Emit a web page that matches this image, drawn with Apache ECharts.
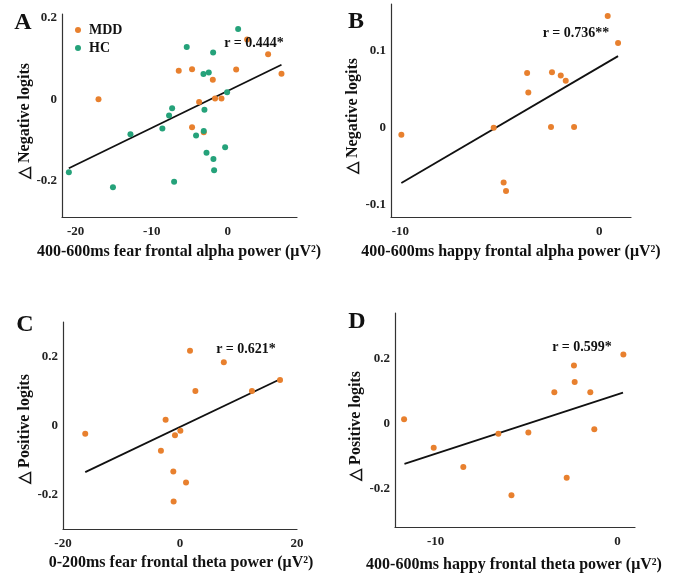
<!DOCTYPE html>
<html>
<head>
<meta charset="utf-8">
<script src="https://cdn.jsdelivr.net/npm/echarts@6/dist/echarts.min.js"></script>
<style>
  html, body { margin: 0; padding: 0; background: #fff; }
  #main { width: 692px; height: 578px; }
</style>
</head>
<body>
<div id="main"></div>
<script>
// values

// A: fear frontal alpha vs negative logits
let aMddX = [-17.0, -6.45, -4.7, -3.77, -4.7, -3.16, -1.97, -1.67, -0.83, 1.1, 2.54, 5.3, 7.06]
let aMddY = [0.0, 0.07, 0.074, -0.007, -0.069, -0.081, 0.048, 0.002, 0.002, 0.073, 0.147, 0.111, 0.063]
let aHcX = [1.36, -5.4, -1.93, -3.2, -2.5, -0.09, -7.32, -7.72, -3.07, -8.6, -3.16, -12.8, -4.17, -0.35, -2.8, -1.89, -1.8, -7.06, -20.9, -15.1]
let aHcY = [0.173, 0.129, 0.115, 0.0625, 0.066, 0.017, -0.022, -0.04, -0.026, -0.072, -0.078, -0.086, -0.089, -0.118, -0.132, -0.147, -0.175, -0.203, -0.18, -0.217]
let aFitX = [-20.9, 7.06]
let aFitY = [-0.170, 0.085]

// B: happy frontal alpha vs negative logits
let bX = [-9.95, -5.31, -4.81, -4.69, -3.63, -3.57, -2.43, -2.38, -1.94, -1.69, -1.27, 0.42, 0.94]
let bY = [-0.009, 0, -0.071, -0.082, 0.071, 0.046, 0.001, 0.072, 0.068, 0.061, 0.001, 0.145, 0.110]
let bFitX = [-9.95, 0.94]
let bFitY = [-0.0714, 0.093]

// C: fear frontal theta vs positive logits
let cX = [-16.2, -2.46, -3.26, -0.86, 0.06, -1.14, -1.09, 1.03, 1.71, 2.63, 7.49, 12.3, 17.1]
let cY = [-0.024, 0.017, -0.073, -0.028, -0.015, -0.133, -0.220, -0.165, 0.217, 0.100, 0.183, 0.100, 0.132]
let cFitX = [-16.2, 17.1]
let cFitY = [-0.135, 0.134]

// D: happy frontal theta vs positive logits
let dX = [-11.74, -10.11, -8.48, -6.55, -5.83, -4.9, -3.47, -2.79, -2.39, -2.35, -1.49, -1.27, 0.33]
let dY = [0.013, -0.075, -0.135, -0.032, -0.222, -0.028, 0.096, -0.168, 0.179, 0.128, 0.096, -0.018, 0.213]
let dFitX = [-11.72, 0.31]
let dFitY = [-0.125, 0.095]

let aXTicks = [-20, -10, 0], aYTicks = [-0.2, 0, 0.2]
let bXTicks = [-10, 0], bYTicks = [-0.1, 0, 0.1]
let cXTicks = [-20, 0, 20], cYTicks = [-0.2, 0, 0.2]
let dXTicks = [-10, 0], dYTicks = [-0.2, 0, 0.2]

const orange = '#E8802E'
const green = '#25A27A'
const serif = '"Liberation Serif", "Times New Roman", serif'

function zip(xs, ys) {
    return xs.map((x, i) => [x, ys[i]])
}

function xAxis(idx, min, max, ticks) {
    return {
        type: 'value', gridIndex: idx, min: min, max: max,
        axisLine: { show: true, onZero: false, lineStyle: { color: '#333', width: 1.2 } },
        axisTick: { show: false },
        splitLine: { show: false },
        axisLabel: { customValues: ticks, margin: 8, color: '#222', fontSize: 13, fontWeight: 'bold', fontFamily: serif }
    }
}

function yAxis(idx, min, max, ticks) {
    return {
        type: 'value', gridIndex: idx, min: min, max: max,
        axisLine: { show: true, onZero: false, lineStyle: { color: '#333', width: 1.2 } },
        axisTick: { show: false },
        splitLine: { show: false },
        axisLabel: { customValues: ticks, margin: 5, color: '#222', fontSize: 13, fontWeight: 'bold', fontFamily: serif }
    }
}

function dots(name, idx, data, color) {
    return {
        name: name, type: 'scatter', xAxisIndex: idx, yAxisIndex: idx,
        data: data, symbolSize: 6, itemStyle: { color: color, opacity: 1 }, z: 3
    }
}

function fit(idx, data) {
    return {
        type: 'line', xAxisIndex: idx, yAxisIndex: idx, data: data,
        showSymbol: false, lineStyle: { color: '#111', width: 1.8 }, z: 2, silent: true
    }
}

function txt(x, y, s, size, rot) {
    return {
        type: 'text', x: x, y: y, rotation: rot || 0, z: 10,
        style: { text: s, fill: '#111', fontSize: size, fontWeight: 'bold', fontFamily: serif, align: 'center', verticalAlign: 'middle' }
    }
}

var myChart = echarts.init(document.getElementById('main'))

var option = {
    animation: false,
    backgroundColor: '#fff',
    grid: [
        { left: 62, top: 14, width: 235, height: 203 },
        { left: 391, top: 4, width: 240, height: 213 },
        { left: 63, top: 322, width: 234, height: 207 },
        { left: 395, top: 313, width: 240, height: 214 }
    ],
    xAxis: [
        xAxis(0, -21.8, 9.1, aXTicks),
        xAxis(1, -10.47, 1.59, bXTicks),
        xAxis(2, -20, 20, cXTicks),
        xAxis(3, -12.24, 0.97, dXTicks)
    ],
    yAxis: [
        yAxis(0, -0.29, 0.21, aYTicks),
        yAxis(1, -0.1156, 0.1606, bYTicks),
        yAxis(2, -0.3, 0.3, cYTicks),
        yAxis(3, -0.32, 0.341, dYTicks)
    ],
    legend: {
        data: ['MDD', 'HC'], orient: 'vertical', left: 75, top: 23, padding: 0,
        icon: 'circle', itemWidth: 6, itemHeight: 6, itemGap: 4,
        textStyle: { fontSize: 14, fontWeight: 'bold', fontFamily: serif, color: '#111', lineHeight: 14, padding: [0, 0, 0, 3] }
    },
    series: [
        fit(0, zip(aFitX, aFitY)),
        dots('MDD', 0, zip(aMddX, aMddY), orange),
        dots('HC', 0, zip(aHcX, aHcY), green),
        fit(1, zip(bFitX, bFitY)),
        dots('B', 1, zip(bX, bY), orange),
        fit(2, zip(cFitX, cFitY)),
        dots('C', 2, zip(cX, cY), orange),
        fit(3, zip(dFitX, dFitY)),
        dots('D', 3, zip(dX, dY), orange)
    ],
    graphic: [
        txt(23, 23, 'A', 24), txt(356, 22, 'B', 24), txt(25, 325, 'C', 24), txt(357, 322, 'D', 24),
        txt(254, 43, 'r = 0.444*', 14), txt(576, 33, 'r = 0.736**', 14),
        txt(246, 349, 'r = 0.621*', 14), txt(582, 347, 'r = 0.599*', 14),
        txt(25, 121, '△ Negative logits', 16, Math.PI / 2),
        txt(353, 116, '△ Negative logits', 16, Math.PI / 2),
        txt(25, 429, '△ Positive logits', 16, Math.PI / 2),
        txt(356, 426, '△ Positive logits', 16, Math.PI / 2),
        txt(179, 252, '400-600ms fear frontal alpha power (μV²)', 16),
        txt(511, 252, '400-600ms happy frontal alpha power (μV²)', 16),
        txt(181, 563, '0-200ms fear frontal theta power (μV²)', 16),
        txt(514, 565, '400-600ms happy frontal theta power (μV²)', 16)
    ]
}

myChart.setOption(option)
</script>
</body>
</html>
